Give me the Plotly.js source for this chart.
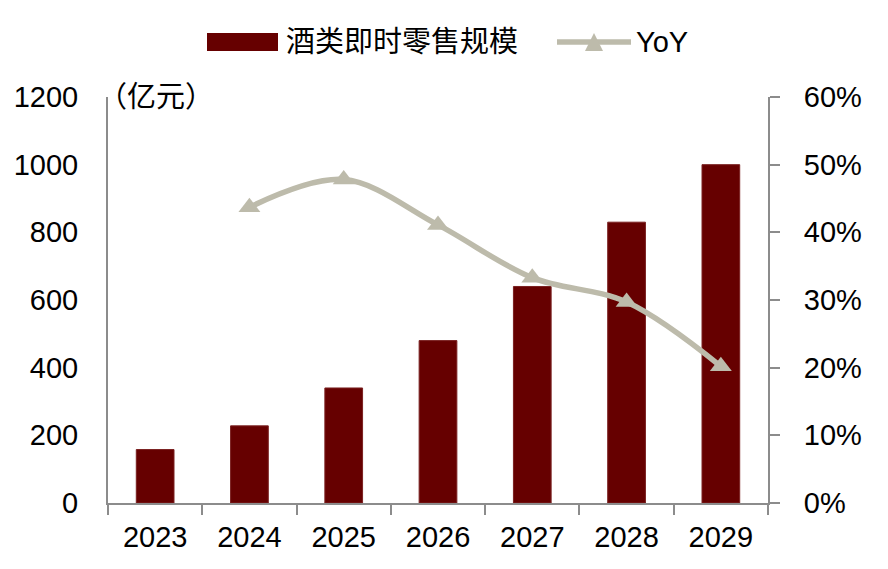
<!DOCTYPE html>
<html>
<head>
<meta charset="utf-8">
<script src="https://cdn.plot.ly/plotly-3.0.1.min.js"></script>
<style>html,body{margin:0;padding:0;background:#fff;}#chart{width:888px;height:569px;}</style>
</head>
<body>
<div id="chart"></div>
<script>
const years = ['2023', '2024', '2025', '2026', '2027', '2028', '2029'];
const retailScale = [158, 228, 340, 480, 640, 830, 1000];
const yoy = [null, 0.437, 0.478, 0.411, 0.333, 0.297, 0.202];
const leftTicks = [0, 200, 400, 600, 800, 1000, 1200];
const rightTicks = [0, 0.1, 0.2, 0.3, 0.4, 0.5, 0.6];
const barName = '酒类即时零售规模';
const lineName = 'YoY';
const unitLabel = '（亿元）';

const FONT = 'Liberation Sans, Arial, Noto Sans CJK SC, sans-serif';
const FS = 29;
const barColor = '#660000';
const lineColor = '#bdbbab';
const axisColor = '#8c8c8c';

const L = 108, R = 768, T = 97, B = 503;
const px = x => (x - L) / (R - L);
const py = y => (B - y) / (B - T);

const traces = [
  {
    type: 'bar', x: years, y: retailScale, name: barName,
    marker: {color: barColor, line: {color: '#7a2020', width: 1}},
    width: 0.4, yaxis: 'y', hoverinfo: 'none'
  },
  {
    type: 'scatter', mode: 'lines+markers', x: years, y: yoy, name: lineName,
    line: {color: lineColor, width: 5.5, shape: 'spline', smoothing: 1},
    marker: {symbol: 'triangle-up', size: 19, color: lineColor},
    yaxis: 'y2', hoverinfo: 'none', connectgaps: false
  }
];

const layout = {
  width: 888, height: 569,
  margin: {l: L, r: 888 - R, t: T, b: 569 - B, pad: 0},
  paper_bgcolor: '#fff', plot_bgcolor: '#fff',
  showlegend: false,
  font: {family: FONT, size: FS, color: '#000'},
  bargap: 0.6,
  xaxis: {
    type: 'category', showline: true, linecolor: axisColor, linewidth: 2,
    ticks: 'outside', tickson: 'boundaries', ticklen: 10, tickwidth: 2, tickcolor: axisColor,
    showgrid: false, zeroline: false, ticklabelstandoff: 7,
    tickfont: {family: FONT, size: FS, color: '#000'}
  },
  yaxis: {
    range: [0, 1200], tickvals: leftTicks, ticktext: leftTicks.map(String),
    showline: true, linecolor: axisColor, linewidth: 2, ticks: '',
    showgrid: false, zeroline: false, ticklabelstandoff: 22,
    tickfont: {family: FONT, size: FS, color: '#000'}
  },
  yaxis2: {
    overlaying: 'y', side: 'right', range: [0, 0.6], tickvals: rightTicks,
    ticktext: rightTicks.map(v => Math.round(v * 100) + '%'),
    showline: true, linecolor: axisColor, linewidth: 2,
    ticks: 'outside', ticklen: 10, tickwidth: 2, tickcolor: axisColor,
    showgrid: false, zeroline: false, ticklabelstandoff: 18,
    tickfont: {family: FONT, size: FS, color: '#000'}
  },
  shapes: [
    {type: 'rect', xref: 'paper', yref: 'paper', x0: px(207), x1: px(278), y0: py(51), y1: py(33),
     fillcolor: barColor, line: {width: 0}},
    {type: 'line', xref: 'paper', yref: 'paper', x0: px(557), x1: px(631), y0: py(42), y1: py(42),
     line: {color: lineColor, width: 5.5}},
    {type: 'path', xref: 'paper', yref: 'paper',
     path: `M ${px(585)} ${py(51)} L ${px(603)} ${py(51)} L ${px(594)} ${py(33)} Z`,
     fillcolor: lineColor, line: {width: 0}}
  ],
  annotations: [
    {xref: 'paper', yref: 'paper', x: px(284), y: py(42), xanchor: 'left', yanchor: 'middle',
     text: barName, showarrow: false, font: {family: FONT, size: FS, color: '#000'}},
    {xref: 'paper', yref: 'paper', x: px(634), y: py(42), xanchor: 'left', yanchor: 'middle',
     text: lineName, showarrow: false, font: {family: FONT, size: FS, color: '#000'}},
    {xref: 'paper', yref: 'paper', x: px(96), y: py(97), xanchor: 'left', yanchor: 'middle',
     text: unitLabel, showarrow: false, font: {family: FONT, size: FS, color: '#000'}}
  ]
};

Plotly.newPlot('chart', traces, layout, {staticPlot: true, displayModeBar: false});
</script>
</body>
</html>
